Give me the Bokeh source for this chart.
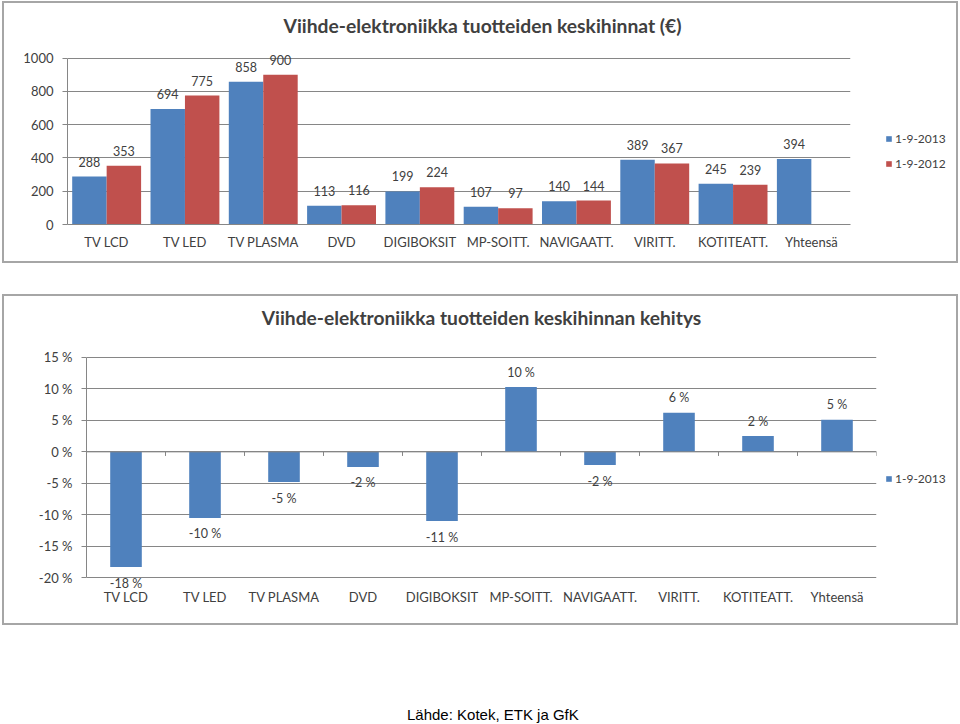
from bokeh.plotting import figure
from bokeh.models import (ColumnDataSource, FactorRange, Range1d, FixedTicker, Legend, LegendItem,
                          Span, Div, Spacer)
from bokeh.transform import dodge
from bokeh.layouts import column, row
from bokeh.embed import file_html
from bokeh.resources import INLINE
from bokeh.core.properties import value

# ---------------- data ----------------
categories = ["TV LCD", "TV LED", "TV PLASMA", "DVD", "DIGIBOKSIT", "MP-SOITT.",
              "NAVIGAATT.", "VIRITT.", "KOTITEATT.", "Yhteensä"]
series_names = ["1-9-2013", "1-9-2012"]
price_2013 = [288, 694, 858, 113, 199, 107, 140, 389, 245, 394]
price_2012 = [353, 775, 900, 116, 224, 97, 144, 367, 239, None]
change_2013 = [-18.3, -10.5, -4.8, -2.4, -11.0, 10.3, -2.1, 6.2, 2.5, 5.1]
change_labels = ["-18 %", "-10 %", "-5 %", "-2 %", "-11 %", "10 %", "-2 %", "6 %", "2 %", "5 %"]
price_ticks = [0, 200, 400, 600, 800, 1000]
change_ticks = [-20, -15, -10, -5, 0, 5, 10, 15]
title_top = "Viihde-elektroniikka tuotteiden keskihinnat (€)"
title_bottom = "Viihde-elektroniikka tuotteiden keskihinnan kehitys"
source_text = "Lähde: Kotek, ETK ja GfK"

BLUE = "#4F81BD"
RED = "#C0504D"
GRID = "#868686"
TEXT = "#404040"
B = "2px solid #A6A6A6"
FONT = "Lato"


def style_axes(p, x_standoff):
    p.outline_line_color = None
    p.xgrid.grid_line_color = None
    p.ygrid.grid_line_color = GRID
    p.ygrid.grid_line_width = 1
    for ax in (p.xaxis, p.yaxis):
        ax.major_label_text_font = FONT
        ax.major_label_text_font_size = "13px"
        ax.major_label_text_color = TEXT
        ax.minor_tick_line_color = None
    p.yaxis.axis_line_color = GRID
    p.yaxis.major_tick_line_color = GRID
    p.yaxis.major_tick_out = 5
    p.yaxis.major_tick_in = 0
    p.yaxis.major_label_standoff = 9
    p.xaxis.major_tick_line_color = None
    p.xaxis.major_tick_out = 0
    p.xaxis.major_tick_in = 0
    p.xaxis.major_label_standoff = x_standoff


def style_title(p, text, size, align, offset):
    p.title.text = text
    p.title.align = align
    p.title.offset = offset
    p.title.text_font = FONT
    p.title.text_font_size = size
    p.title.text_font_style = "bold"
    p.title.text_color = TEXT


def legend_panel(width, height, sources, colors, names, loc):
    # legend-only panel: the series are bound to their data but lie outside its view
    lf = figure(width=width, height=height, x_range=FactorRange(factors=categories),
                y_range=Range1d(5000, 6000),
                output_backend="svg", toolbar_location=None, min_border=0,
                x_axis_location=None, y_axis_location=None, title_location=None,
                outline_line_color=None, frame_align=False,
                styles={"border-top": B, "border-right": B, "border-bottom": B})
    lf.grid.visible = False
    items = []
    for s, c, n in zip(sources, colors, names):
        r = lf.vbar(x="cat", top="val", width=0.5, source=s, fill_color=c, line_color=None)
        items.append(LegendItem(label=n, renderers=[r]))
    lf.add_layout(Legend(items=items, location=loc, glyph_width=7, glyph_height=7,
                         label_height=14, spacing=10, padding=0, margin=0,
                         border_line_color=None, background_fill_alpha=0,
                         label_text_font=FONT, label_text_font_size="12px",
                         label_text_color=TEXT, label_standoff=3))
    return lf


# ---------------- top chart ----------------
p1 = figure(x_range=FactorRange(factors=categories), y_range=Range1d(0, 1100),
            width=858, height=262, output_backend="svg", toolbar_location=None,
            min_border_left=63, min_border_right=12, min_border_top=38, min_border_bottom=41,
            frame_align=False, styles={"border-top": B, "border-left": B, "border-bottom": B})
style_axes(p1, 9)
p1.yaxis.ticker = FixedTicker(ticks=price_ticks)
p1.yaxis.bounds = (0, 1000)
p1.xaxis.axis_line_color = GRID
style_title(p1, title_top, "19.3px", "left", 216)

src13 = ColumnDataSource(dict(cat=categories, val=price_2013, lbl=[str(v) for v in price_2013]))
idx12 = [i for i, v in enumerate(price_2012) if v is not None]
src12 = ColumnDataSource(dict(cat=[categories[i] for i in idx12],
                              val=[price_2012[i] for i in idx12],
                              lbl=[str(price_2012[i]) for i in idx12]))

p1.vbar(x=dodge("cat", -0.22, range=p1.x_range), top="val", width=0.44, source=src13,
        fill_color=BLUE, line_color=None)
p1.vbar(x=dodge("cat", 0.22, range=p1.x_range), top="val", width=0.44, source=src12,
        fill_color=RED, line_color=None)
for src, off in ((src13, -0.22), (src12, 0.22)):
    p1.text(x=dodge("cat", off, range=p1.x_range), y="val", text="lbl", source=src,
            text_align="center", text_baseline="middle", y_offset=-15,
            text_font=value(FONT), text_font_size="12.5px", text_color=TEXT)

leg1 = legend_panel(98, 262, [src13, src12], [BLUE, RED], series_names, (25, 94))

# ---------------- bottom chart ----------------
p2 = figure(x_range=FactorRange(factors=categories), y_range=Range1d(-22.5, 18.8),
            width=878, height=331, output_backend="svg", toolbar_location=None,
            min_border_left=82, min_border_right=6, min_border_top=37, min_border_bottom=34,
            frame_align=False, styles={"border-top": B, "border-left": B, "border-bottom": B})
style_axes(p2, -5)
p2.yaxis.ticker = FixedTicker(ticks=change_ticks)
p2.yaxis.major_label_overrides = {t: f"{t} %" for t in change_ticks}
p2.yaxis.bounds = (-20, 15)
p2.xaxis.axis_line_color = None
style_title(p2, title_bottom, "19.2px", "center", 0)

srcc = ColumnDataSource(dict(cat=categories, val=change_2013, lbl=change_labels,
                             off=[-15 if v >= 0 else 16 for v in change_2013]))
p2.vbar(x="cat", top="val", bottom=0, width=0.4, source=srcc, fill_color=BLUE, line_color=None)
p2.text(x="cat", y="val", text="lbl", source=srcc, text_align="center", text_baseline="middle",
        y_offset="off", text_font=value(FONT), text_font_size="12.5px", text_color=TEXT)

p2.add_layout(Span(location=0, dimension="width", line_color=GRID, line_width=1))
p2.segment(x0=dodge("cat", 0.5, range=p2.x_range), y0=0,
           x1=dodge("cat", 0.5, range=p2.x_range), y1=-0.65,
           source=srcc, line_color=GRID, line_width=1)

leg2 = legend_panel(78, 331, [srcc], [BLUE], series_names[:1], (5, 141))

# ---------------- source line ----------------
src_div = Div(text=('<div style="padding-top:77px;padding-left:402px;'
                    'font-family:\'Liberation Sans\',Arial,sans-serif;font-size:15px;'
                    'line-height:15px;color:#000;white-space:nowrap;">' + source_text + '</div>'),
              width=958, height=90)

layout = column(Spacer(height=1),
                row(Spacer(width=2), p1, leg1, spacing=0),
                Spacer(height=31),
                row(Spacer(width=2), p2, leg2, spacing=0),
                src_div, spacing=0)
open("out.html", "w").write(file_html(layout, INLINE))
